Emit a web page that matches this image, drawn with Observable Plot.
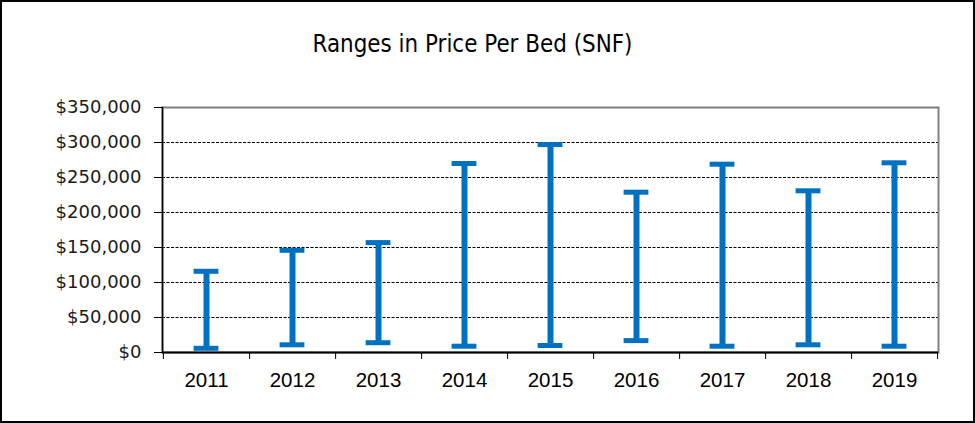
<!DOCTYPE html>
<html>
<head>
<meta charset="utf-8">
<script src="https://cdn.jsdelivr.net/npm/d3@7"></script>
<script src="https://cdn.jsdelivr.net/npm/@observablehq/plot@0.6"></script>
<style>
  body { margin: 0; background: #fff; }
  #wrap { position: relative; width: 975px; height: 423px; }
  #border { position: absolute; left: 0; top: 0; width: 975px; height: 423px; box-sizing: border-box; border: 2px solid #000; pointer-events: none; }
</style>
</head>
<body>
<div id="wrap"><div id="border"></div></div>
<script>
const title = "Ranges in Price Per Bed (SNF)";
const years = ["2011", "2012", "2013", "2014", "2015", "2016", "2017", "2018", "2019"];
const lowValues = [6000, 11000, 14000, 9000, 10000, 17000, 9000, 11000, 9000];
const highValues = [116000, 146000, 157000, 270000, 297000, 229000, 269000, 231000, 271000];
const yTicks = [0, 50000, 100000, 150000, 200000, 250000, 300000, 350000];

const data = years.map((y, i) => ({year: y, low: lowValues[i], high: highValues[i]}));

const W = 975, H = 423, mL = 162, mR = 37, mT = 107, mB = 71;
const band = (W - mL - mR) / years.length;
const blue = "#0070C0";

const chart = Plot.plot({
  width: W,
  height: H,
  marginLeft: mL,
  marginRight: mR,
  marginTop: mT,
  marginBottom: mB,
  style: {fontFamily: "Liberation Sans, Arial, sans-serif", background: "#fff", overflow: "visible"},
  x: {type: "band", domain: years, padding: 0, label: null},
  y: {domain: [0, 350000], label: null},
  marks: [
    Plot.ruleY(yTicks.filter(d => d > 0 && d < 350000), {stroke: "#000", strokeWidth: 1, strokeDasharray: "3,1.5"}),
    Plot.frame({stroke: "#808080", strokeWidth: 2}),
    Plot.frame({anchor: "left", stroke: "#000", strokeWidth: 1.5}),
    Plot.ruleY([0], {stroke: "#000", strokeWidth: 2}),
    Plot.axisY({ticks: yTicks, tickFormat: d3.format("$,"), tickSize: 8, tickPadding: 13, fontSize: 18, fontFamily: "DejaVu Sans, sans-serif", fill: "#1a1a1a", stroke: "#000", label: null}),
    Plot.axisX({tickSize: 7, dx: band / 2, tickFormat: () => "", stroke: "#000", label: null}),
    Plot.axisX({ticks: ["2011"], tickSize: 7, dx: -band / 2, tickFormat: () => "", stroke: "#000", label: null}),
    Plot.axisX({tickSize: 0, tickPadding: 20, fontSize: 20.5, fontFamily: "Liberation Sans, Arial, sans-serif", fill: "#000", label: null}),
    Plot.ruleX(data, {x: "year", y1: "low", y2: "high", stroke: blue, strokeWidth: 6}),
    Plot.tickY(data, {x: "year", y: "low", stroke: blue, strokeWidth: 5, inset: (band - 25) / 2}),
    Plot.tickY(data, {x: "year", y: "high", stroke: blue, strokeWidth: 5, inset: (band - 25) / 2}),
    Plot.text([title], {className: "chart-title", frameAnchor: "top", dy: -73, dx: -78, fontSize: 24, fontFamily: "DejaVu Sans, sans-serif", fill: "#000"})
  ]
});
d3.select(chart).selectAll(".chart-title text").attr("textLength", 320).attr("lengthAdjust", "spacingAndGlyphs");
document.getElementById("wrap").prepend(chart);
</script>
</body>
</html>
